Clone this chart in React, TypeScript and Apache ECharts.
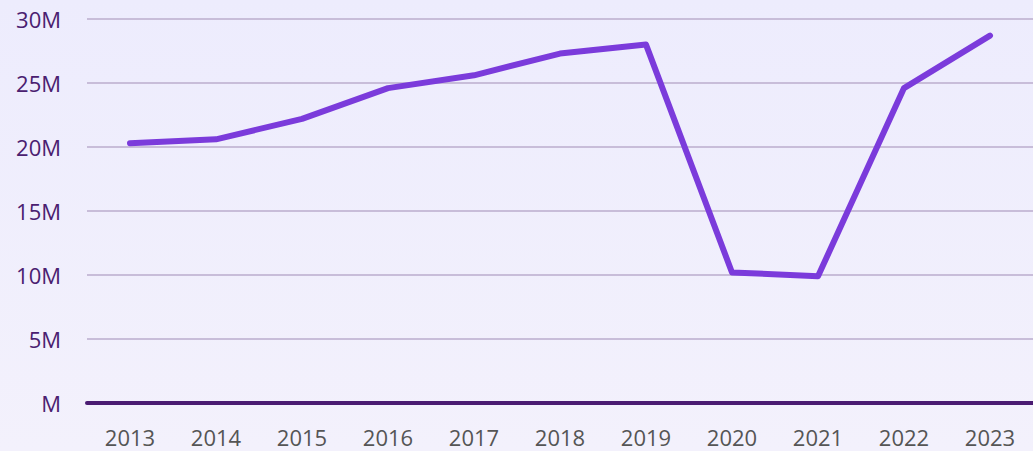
import React, { useEffect, useRef } from "react";
import * as echarts from "echarts";

const years = ["2013", "2014", "2015", "2016", "2017", "2018", "2019", "2020", "2021", "2022", "2023"];
const values = [20.3e6, 20.6e6, 22.2e6, 24.6e6, 25.6e6, 27.3e6, 28.0e6, 10.2e6, 9.9e6, 24.6e6, 28.7e6];

export default function App() {
  const ref = useRef<HTMLDivElement>(null);
  useEffect(() => {
    if (!ref.current) return;
    const chart = echarts.init(ref.current, null, { renderer: "svg" });
    chart.setOption({
      animation: false,
      backgroundColor: new echarts.graphic.LinearGradient(0, 0, 0, 1, [
        { offset: 0, color: "#EDECFD" },
        { offset: 1, color: "#F3F1FC" },
      ]),
      grid: { left: 87, right: 0, top: 19, bottom: 48 },
      xAxis: {
        type: "category",
        data: years,
        boundaryGap: true,
        axisLine: { show: true, lineStyle: { color: "#4A1B72", width: 4 } },
        axisTick: { show: false },
        axisLabel: { color: "#555555", fontSize: 22, margin: 23, fontFamily: "Open Sans" },
      },
      yAxis: {
        type: "value",
        min: 0,
        max: 30e6,
        interval: 5e6,
        axisLine: { show: false },
        axisTick: { show: false },
        splitLine: { lineStyle: { color: "#C8BDD9", width: 2 } },
        axisLabel: {
          color: "#4A2070",
          fontSize: 22,
          margin: 26,
          fontFamily: "Open Sans",
          formatter: (v: number) => (v === 0 ? "M" : v / 1e6 + "M"),
        },
      },
      series: [
        {
          type: "line",
          data: values,
          symbol: "none",
          lineStyle: { color: "#7B3BDB", width: 6, cap: "round", join: "round" },
          z: 3,
        },
      ],
    });
    return () => chart.dispose();
  }, []);
  return <div ref={ref} style={{ position: "fixed", left: 0, top: 0, width: 1033, height: 451 }} />;
}
